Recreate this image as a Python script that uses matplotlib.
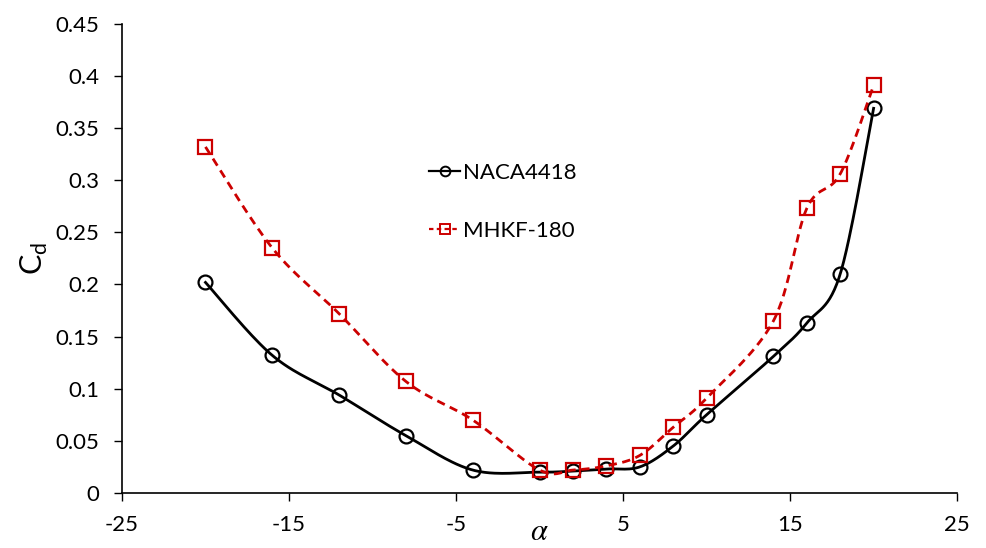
import matplotlib
matplotlib.use('Agg')
import matplotlib.pyplot as plt
import numpy as np

alpha = [-20, -16, -12, -8, -4, 0, 2, 4, 6, 8, 10, 14, 16, 18, 20]
cd_naca = [0.202, 0.132, 0.094, 0.055, 0.022, 0.020, 0.021, 0.023, 0.025,
           0.045, 0.075, 0.131, 0.163, 0.210, 0.369]
cd_mhkf = [0.332, 0.235, 0.172, 0.107, 0.070, 0.022, 0.022, 0.026, 0.036,
           0.063, 0.091, 0.165, 0.273, 0.306, 0.391]


def smooth(x, y, n=30):
    # bezier through points, like excel's smoothed line
    p = np.column_stack([x, y]).astype(float)
    pts = [p[0]]
    for i in range(len(p) - 1):
        p0 = p[max(i - 1, 0)]
        p1 = p[i]
        p2 = p[i + 1]
        p3 = p[min(i + 2, len(p) - 1)]
        c1 = p1 + (p2 - p0) / 6
        c2 = p2 - (p3 - p1) / 6
        t = np.linspace(0, 1, n)[1:, None]
        seg = ((1 - t) ** 3 * p1 + 3 * (1 - t) ** 2 * t * c1
               + 3 * (1 - t) * t ** 2 * c2 + t ** 3 * p2)
        pts.extend(seg)
    pts = np.array(pts)
    return pts[:, 0], pts[:, 1]


plt.rcParams['font.family'] = ['Lato', 'DejaVu Sans']
plt.rcParams['axes.unicode_minus'] = False

fig = plt.figure(figsize=(9.86, 5.48), dpi=100)
ax = fig.add_axes([0.1237, 0.1004, 0.847, 0.856])

red = '#cc0000'
xs, ys = smooth(alpha, cd_naca)
ax.plot(xs, ys, color='black', lw=2)
ax.plot(alpha, cd_naca, 'o', mfc='none', mec='black', ms=10, mew=1.6)

xs, ys = smooth(alpha, cd_mhkf)
ax.plot(xs, ys, color=red, lw=2, ls=(0, (3, 2)))
ax.plot(alpha, cd_mhkf, 's', mfc='none', mec=red, ms=10, mew=1.6)

# legend handles
h1, = ax.plot([], [], color='black', lw=1.6, marker='o', mfc='none', mec='black', ms=7, mew=1.4)
h2, = ax.plot([], [], color=red, lw=1.6, ls=(0, (2, 1.5)), marker='s', mfc='none',
              mec=red, ms=7, mew=1.4)
ax.legend([h1, h2], ['NACA4418', 'MHKF-180'], loc='upper left', bbox_to_anchor=(0.368, 0.703),
          frameon=False, fontsize=16, handlelength=1.4, handletextpad=0.1, labelspacing=1.68,
          borderpad=0, borderaxespad=0)

ax.set_xlim(-25, 25)
ax.set_ylim(0, 0.45)
ax.set_xticks([-25, -15, -5, 5, 15, 25])
ax.set_yticks(np.arange(0, 0.46, 0.05))
ax.set_yticklabels(['0', '0.05', '0.1', '0.15', '0.2', '0.25', '0.3', '0.35', '0.4', '0.45'])
ax.tick_params(labelsize=16, direction='out', length=6, width=1, pad=10)
for s in ['top', 'right']:
    ax.spines[s].set_visible(False)
for s in ['left', 'bottom']:
    ax.spines[s].set_linewidth(1.2)

ax.set_ylabel('C$_\\mathregular{d}$', fontsize=22, labelpad=4)
ax.text(0.5, -0.08, r'$\alpha$', transform=ax.transAxes, fontsize=22,
        ha='center', va='center', math_fontfamily='stix')

fig.savefig('out.png', dpi=100)
